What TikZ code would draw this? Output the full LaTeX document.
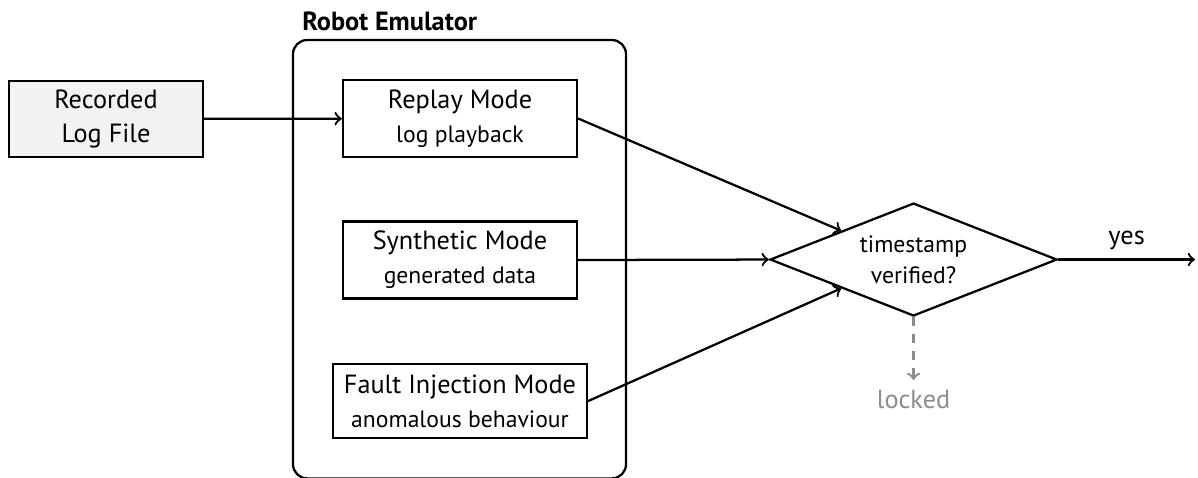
\documentclass[tikz,border=0pt]{standalone}
\usepackage{fontspec}
\setmainfont{PT Sans}[Scale=0.93]
\usetikzlibrary{shapes.geometric}
\tikzset{
  source/.style={draw, thick, fill=gray!10, minimum width=2.41cm, minimum height=0.9cm, align=center},
  mode/.style={draw, thick, minimum width=2.91cm, minimum height=0.96cm, inner sep=2pt, align=center},
  check/.style={draw, thick, diamond, aspect=2.5, minimum width=3.57cm, minimum height=1.405cm, inner sep=0pt, align=center, font=\small},
  flow/.style={->, thick},
}
\begin{document}
\begin{tikzpicture}
      \useasboundingbox (0,0) rectangle (14.9,-5.933);
      % emulator container
      \draw[thick, rounded corners=5pt] (3.644,-0.4975) rectangle (7.786,-5.95);
      \coordinate (emu) at (3.644,-0.4975);
      \node[anchor=south west, font=\bfseries] (emulabel) at (emu) {Robot Emulator};
      \draw
        (1.318,-1.480) node[source] (log){Recorded\\Log File}
        (5.721,-1.474) node[mode] (replay){Replay Mode\\{\small log playback}}
        (5.721,-3.234) node[mode] (synth){Synthetic Mode\\{\small generated data}}
        (5.721,-4.988) node[mode, minimum width=3.16cm, minimum height=0.92cm] (fault){Fault Injection Mode\\{\small anomalous behaviour}}
        (11.362,-3.228) node[check] (verify){timestamp\\verified?};
      \coordinate (out) at (14.863,-3.228);
      \coordinate (lock) at (11.362,-4.726);
      \begin{scope}[flow]
        \draw (log) to (replay);
        \draw (replay.east) to (verify.north west);
        \draw (synth.east) to (verify.west);
        \draw (fault.east) to (verify.south west);
        \draw (verify.east) to node[above] {yes} (out);
        \draw[black!45, dashed] (verify.south) to (lock) node[below] {locked};
      \end{scope}
    \end{tikzpicture}
\end{document}
